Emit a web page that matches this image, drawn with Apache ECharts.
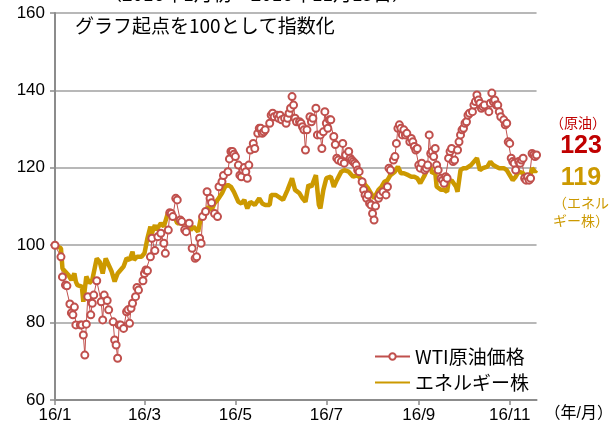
<!DOCTYPE html>
<html>
<head>
<meta charset="utf-8">
<script src="https://cdn.jsdelivr.net/npm/echarts@6/dist/echarts.min.js"></script>
<style>
  html, body { margin: 0; padding: 0; background: #fff; }
  #chart-container { width: 616px; height: 444px; }
</style>
</head>
<body>
<div id="chart-container"></div>
<script>
// 2016/1/1 からの経過日数（カテゴリ）
const dayCount = 324;
const days = Array.from({ length: dayCount }, (_, i) => String(i));
const tickDays = [0, 60, 121, 182, 244, 305];
const tickLabels = ["16/1", "16/3", "16/5", "16/7", "16/9", "16/11"];

// WTI原油価格（指数）
const wtiDays = [
  0, 4, 5, 7, 8, 10, 11, 12, 13, 14,
  17, 18, 19, 20, 21, 22, 24, 25, 26, 28,
  31, 32, 33, 35, 36, 39, 40, 41, 42, 43,
  44, 46, 48, 49, 50, 51, 52, 54, 55, 56,
  59, 60, 61, 62, 64, 65, 67, 69, 71, 73,
  74, 76, 77, 78, 79, 81, 82, 84, 85, 87,
  88, 90, 92, 94, 95, 97, 98, 99, 101, 102,
  104, 105, 107, 109, 110, 112, 113, 116, 117, 118,
  119, 120, 121, 123, 124, 125, 126, 127, 128, 129,
  130, 131, 133, 134, 136, 137, 138, 139, 140, 141,
  144, 145, 146, 147, 149, 150, 151, 152, 154, 155,
  156, 157, 158, 159, 160, 161, 162, 164, 165, 166,
  167, 168, 169, 171, 172, 173, 175, 176, 178, 179,
  180, 181, 182, 183, 184, 185, 187, 188, 189, 190,
  192, 193, 194, 195, 197, 198, 199, 200, 201, 202,
  203, 204, 206, 207, 208, 209, 210, 211, 212, 213,
  214, 215, 217, 218, 220, 222, 223, 224, 225, 227,
  228, 229, 230, 231, 232, 233, 234, 235, 236, 238,
  239, 240, 241, 242, 243, 244, 245, 246, 248, 249,
  250, 251, 252, 253, 254, 255, 256, 257, 259, 260,
  261, 262, 263, 264, 265, 266, 267, 268, 270, 271,
  272, 273, 274, 275, 276, 277, 278, 280, 281, 282,
  283, 284, 285, 286, 287, 288, 291, 292, 293, 294,
  295, 296, 297, 298, 299, 301, 302, 303, 304, 305,
  306, 307, 308, 309, 311, 312, 313, 314, 315, 316,
  317, 318, 319, 320, 321, 322, 323
];
const wtiValues = [
  100, 97, 91.8, 89.7, 89.5, 84.8, 82.5, 82, 84, 79.4,
  79.4, 79.4, 76.8, 71.6, 79.6, 86.7, 82, 85, 87.1, 90.8,
  85.4, 80.7, 87.1, 85.7, 83.3, 80.2, 75.5, 74.2, 70.8, 79.4,
  79.4, 78.5, 82.8, 83.3, 79.8, 83.7, 85, 86.7, 89.1, 88.4,
  90.8, 92.7, 93.6, 93.4, 97, 101.8, 98.6, 102.2, 103.1, 100.5,
  97.9, 103.9, 108.4, 108.2, 107.4, 112.1, 111.7, 106.5, 106.1, 104,
  103.5, 105.7, 99.2, 96.6, 97, 101.8, 100.5, 107.4, 108.7, 113.8,
  112.1, 111, 108.2, 107.4, 115.1, 116.4, 118, 119, 122.3, 124.2,
  124.2, 123.5, 122.9, 120.7, 118.1, 117.7, 119.4, 120.1, 119, 117.3,
  120.7, 124.6, 126.3, 125, 128.9, 130.2, 130.2, 128.9, 129.3, 129.8,
  131.5, 133.6, 134.1, 133.2, 133.6, 132.8, 133.6, 132.4, 132.8, 131.5,
  132.8, 134.1, 135.4, 138.4, 136.2, 132.8, 131.9, 131.9, 131.5, 130.6,
  129.8, 124.6, 129.8, 133.2, 131.9, 132.8, 135.4, 128.5, 128.5, 125,
  129.3, 134.5, 131.5, 130.2, 132.4, 132.4, 128.1, 126, 122.5, 122,
  121.6, 126.3, 121.2, 123.3, 124.2, 122.5, 122, 121.6, 121.2, 120.7,
  119.4, 119, 116.4, 114.3, 113, 112.1, 113, 110.8, 110.4, 108.2,
  106.5, 110.1, 112.1, 113, 113.8, 113, 115.1, 119.9, 119.4, 122,
  122.9, 126.3, 130.2, 131.1, 130.2, 128.5, 129.8, 128.5, 128.9, 126.7,
  127.6, 126.7, 125.5, 124.6, 125, 120.7, 119.9, 121.2, 119.4, 119.9,
  120.7, 128.5, 123.7, 124.2, 122.9, 125, 120.7, 119.4, 117.3, 116.8,
  116, 117.7, 117.3, 122.5, 124.2, 125, 121.6, 122, 124.6, 126.7,
  128.5, 129.8, 130.2, 131.5, 131.9, 133.6, 134.1, 134.5, 136.2, 137.1,
  138.8, 137.5, 136.7, 135.4, 135.8, 136.2, 134.5, 136.7, 139.3, 137.1,
  137.5, 136.2, 136.2, 134.5, 133.2, 132.4, 131.1, 131.5, 126.7, 126.3,
  122.5, 121.6, 121.2, 119.4, 121.6, 121.2, 122, 122.5, 117.3, 116.8,
  117.7, 116.8, 117.3, 123.7, 123.3, 122.9, 123.3
];

// エネルギー株（指数）
const energyDays = [
  0, 4, 5, 9, 11, 13, 14, 15, 18, 19,
  21, 23, 25, 28, 30, 32, 34, 36, 38, 40,
  42, 44, 46, 48, 50, 52, 53, 55, 58, 60,
  62, 64, 65, 67, 68, 71, 73, 76, 77, 80,
  82, 83, 86, 89, 91, 93, 96, 98, 101, 103,
  105, 107, 109, 112, 114, 116, 118, 120, 123, 125,
  127, 129, 131, 134, 137, 139, 141, 144, 145, 148,
  150, 153, 156, 159, 161, 164, 166, 168, 170, 172,
  175, 177, 178, 180, 182, 185, 187, 189, 192, 194,
  197, 200, 203, 206, 208, 210, 212, 214, 217, 219,
  221, 223, 225, 228, 230, 232, 234, 237, 239, 241,
  243, 245, 248, 250, 251, 253, 255, 256, 259, 261,
  263, 264, 266, 269, 270, 272, 274, 276, 279, 281,
  283, 285, 287, 290, 292, 294, 296, 298, 301, 303,
  305, 307, 309, 311, 314, 316, 318, 320, 322, 323
];
const energyValues = [
  100, 99.2, 94, 92.3, 91, 92.7, 90.6, 89.7, 89.3, 85.4,
  91.9, 90.2, 91, 96.6, 95.7, 92.7, 96.6, 94.9, 93.2, 90.6,
  92.7, 93.6, 94.5, 96.6, 96.2, 98.3, 96.2, 97, 97, 97.9,
  101.8, 104.8, 103.1, 105.2, 103.9, 105.7, 104.8, 108.7, 107.8, 107.4,
  105.7, 106.1, 105.7, 105.7, 103.9, 104.8, 103.5, 107.4, 108.2, 110,
  109.1, 110.8, 111.7, 113.4, 115.1, 115.6, 115.1, 113.8, 111.2, 110.8,
  111.7, 109.5, 111.2, 110.4, 112.1, 110.8, 110.4, 110.4, 113, 113,
  112.5, 111.7, 114.3, 117.3, 114.3, 113.4, 112.1, 111.2, 115.6, 115.1,
  118.1, 110.4, 109.5, 114.3, 117.3, 117.7, 115.1, 116.8, 119, 119.4,
  119, 117.7, 118.1, 116.8, 115.6, 114.7, 113.4, 112.1, 114.3, 115.1,
  116.4, 116.8, 118.1, 119, 120.3, 118.6, 118.6, 118.1, 117.7, 117.7,
  117.3, 116, 118.1, 119.9, 121.2, 118.6, 119, 115.1, 114.3, 114.3,
  113.8, 116.4, 116.8, 115.1, 113.8, 119.4, 119.9, 119.9, 120.7, 121.6,
  122.5, 119.4, 119.9, 120.3, 121.6, 120.7, 120.3, 119.9, 119.9, 119.4,
  118.1, 116.8, 117.7, 119, 118.6, 116.8, 116.8, 119.9, 119, 119.4
];

const fontFamily = "'Liberation Sans', 'Noto Sans CJK JP', sans-serif";
const cjkFont = "'Noto Sans CJK JP', sans-serif";

let chart = echarts.init(document.getElementById("chart-container"));

function drawChart() {
  var option = {
    animation: false,
    textStyle: { fontFamily: fontFamily },
    grid: { left: 55, right: 74, top: 13, bottom: 44 },
    legend: {
      orient: "vertical",
      left: 369,
      top: 342,
      itemWidth: 35,
      itemHeight: 8,
      itemGap: 7,
      textStyle: { fontSize: 19, color: "#000", fontFamily: cjkFont },
      data: [
        { name: "WTI原油価格" },
        // 線だけ見せる（丸印は消す）
        { name: "エネルギー株", itemStyle: { opacity: 0 } },
      ],
    },
    xAxis: {
      type: "category",
      data: days,
      boundaryGap: false,
      name: "（年/月）",
      nameLocation: "end",
      nameGap: 8,
      nameTextStyle: {
        fontSize: 16,
        color: "#000",
        verticalAlign: "top",
        padding: [6, 0, 0, 0],
      },
      axisLine: { lineStyle: { color: "#8c8c8c", width: 2 } },
      axisTick: {
        interval: (i) => tickDays.includes(i),
        length: 5,
        lineStyle: { color: "#8c8c8c", width: 1.5 },
      },
      axisLabel: {
        interval: (i) => tickDays.includes(i),
        formatter: (v) => {
          const k = tickDays.indexOf(Number(v));
          return k >= 0 ? tickLabels[k] : "";
        },
        fontSize: 17,
        color: "#000",
        margin: 7,
      },
    },
    yAxis: {
      type: "value",
      min: 60,
      max: 160,
      interval: 20,
      axisLine: { show: true, lineStyle: { color: "#8c8c8c", width: 2 } },
      axisTick: { show: true, length: 5, lineStyle: { color: "#8c8c8c", width: 1.5 } },
      axisLabel: { fontSize: 17, color: "#000", margin: 10 },
      splitLine: { lineStyle: { color: "#a0a0a0", width: 1.5 } },
    },
    series: [
      {
        name: "WTI原油価格",
        type: "line",
        data: wtiDays.map((d, i) => [d, wtiValues[i]]),
        symbol: "emptyCircle",
        symbolSize: 7,
        showAllSymbol: true,
        lineStyle: { color: "#c0504d", width: 1 },
        itemStyle: { color: "#c0504d", borderWidth: 1 },
        emphasis: { disabled: true },
      },
      {
        name: "エネルギー株",
        type: "line",
        data: energyDays.map((d, i) => [d, energyValues[i]]),
        symbol: "none",
        lineStyle: { color: "#cc9900", width: 4.5 },
        itemStyle: { color: "#cc9900" },
        emphasis: { disabled: true },
      },
    ],
    graphic: [
      {
        type: "text",
        left: 103,
        top: -16,
        style: {
          text: "（2016年1月初～2016年11月15日）",
          font: "19px " + cjkFont,
          fill: "#000",
        },
      },
      {
        type: "text",
        left: 75,
        top: 16,
        style: {
          text: "グラフ起点を100として指数化",
          font: "19px " + cjkFont,
          fill: "#000",
        },
      },
      {
        type: "text",
        x: 578,
        y: 123,
        style: {
          text: "（原油）",
          font: "14px " + cjkFont,
          fill: "#c00000",
          align: "center",
          verticalAlign: "middle",
        },
      },
      {
        type: "text",
        x: 581,
        y: 146,
        style: {
          text: "123",
          font: "bold 25px 'Liberation Sans', sans-serif",
          fill: "#c00000",
          align: "center",
          verticalAlign: "middle",
        },
      },
      {
        type: "text",
        x: 581,
        y: 178,
        style: {
          text: "119",
          font: "bold 25px 'Liberation Sans', sans-serif",
          fill: "#cc9900",
          align: "center",
          verticalAlign: "middle",
        },
      },
      {
        type: "text",
        x: 581,
        y: 212,
        style: {
          text: "（エネル\nギー株）",
          font: "14px " + cjkFont,
          lineHeight: 18,
          fill: "#cc9900",
          align: "center",
          verticalAlign: "middle",
        },
      },
    ],
  };

  chart.setOption(option);
}

drawChart();
</script>
</body>
</html>
